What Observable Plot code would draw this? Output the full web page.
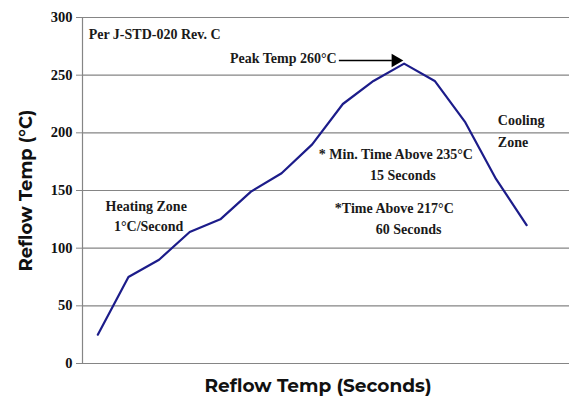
<!DOCTYPE html>
<html>
<head>
<meta charset="utf-8">
<script src="https://cdn.jsdelivr.net/npm/d3@7"></script>
<script src="https://cdn.jsdelivr.net/npm/@observablehq/plot@0.6"></script>
<style>
  html, body { margin: 0; padding: 0; background: #fff; }
</style>
</head>
<body>
<div id="chart"></div>
<script>
// Data
const steps = [1, 2, 3, 4, 5, 6, 7, 8, 9, 10, 11, 12, 13, 14, 15];
const temps = [25, 75, 90, 114, 125, 149, 165, 190, 225, 245, 260, 245, 209, 160, 120];
const yTicks = [0, 50, 100, 150, 200, 250, 300];

// Annotations (data coordinates)
const noteText = ["Per J-STD-020 Rev. C", "Peak Temp 260°C", "Cooling", "Zone",
  "* Min. Time Above 235°C", "15 Seconds", "*Time Above 217°C", "60 Seconds",
  "Heating Zone", "1°C/Second"];
const noteX = [0.70, 8.80, 14.06, 14.06, 10.73, 10.96, 10.68, 11.15, 2.58, 2.66];
const noteY = [285.3, 264.5, 210.7, 191.6, 181.2, 163, 134.4, 116.2, 136.1, 118.8];
const noteAnchor = ["start", "end", "start", "start", "middle", "middle", "middle", "middle", "middle", "middle"];

const arrowFrom = {x: 8.87, y: 262.7};
const arrowTo = {x: 10.6, y: 262.7};
const arrowHead = {x: 10.72, y: 262.7};

const series = steps.map((s, i) => ({step: s, temp: temps[i]}));
const notes = noteText.map((t, i) => ({text: t, x: noteX[i], y: noteY[i], anchor: noteAnchor[i]}));

const serif = "'Liberation Serif', 'Times New Roman', serif";
const sans = "Montserrat, 'Open Sans', Lato, sans-serif";

const noteStyle = {fontSize: 14, fontWeight: "bold", fill: "#1a1a1a"};

const chart = Plot.plot({
  width: 569,
  height: 403,
  marginLeft: 82,
  marginRight: 0,
  marginTop: 17,
  marginBottom: 40,
  style: {fontFamily: serif, background: "#fff"},
  x: {domain: [0.5, 16.4], axis: null},
  y: {domain: [0, 300], axis: null},
  marks: [
    Plot.ruleY(yTicks, {stroke: "#858585", strokeWidth: 1.2}),
    Plot.ruleX([0.5], {stroke: "#858585", strokeWidth: 1.2}),
    Plot.axisY(yTicks, {
      ticks: yTicks, tickSize: 6, tickPadding: 4, stroke: "#858585",
      fontSize: 14.5, fontWeight: "bold", fill: "#111", label: null
    }),
    Plot.line(series, {x: "step", y: "temp", stroke: "#1c1c8a", strokeWidth: 2.2}),
    Plot.text(notes.filter(d => d.anchor === "start"), {
      x: "x", y: "y", text: "text", textAnchor: "start", ...noteStyle
    }),
    Plot.text(notes.filter(d => d.anchor === "end"), {
      x: "x", y: "y", text: "text", textAnchor: "end", ...noteStyle
    }),
    Plot.text(notes.filter(d => d.anchor === "middle"), {
      x: "x", y: "y", text: "text", textAnchor: "middle", ...noteStyle
    }),
    Plot.link([{x1: arrowFrom.x, y1: arrowFrom.y, x2: arrowTo.x, y2: arrowTo.y}], {
      x1: "x1", y1: "y1", x2: "x2", y2: "y2", stroke: "#000", strokeWidth: 1.4
    }),
    Plot.dot([arrowHead], {x: "x", y: "y", symbol: "triangle", rotate: 90, r: 5, fill: "#000", stroke: "none"}),
    Plot.text(["Reflow Temp (°C)"], {
      frameAnchor: "left", textAnchor: "middle", rotate: -90, dx: -56, text: d => d,
      fontSize: 18, fontWeight: "bold", fontFamily: sans, fill: "#111"
    }),
    Plot.text(["Reflow Temp (Seconds)"], {
      frameAnchor: "bottom", dy: 28, dx: -8, text: d => d,
      fontSize: 18.5, fontWeight: "bold", fontFamily: sans, fill: "#111"
    })
  ]
});
document.getElementById("chart").appendChild(chart);
</script>
</body>
</html>
